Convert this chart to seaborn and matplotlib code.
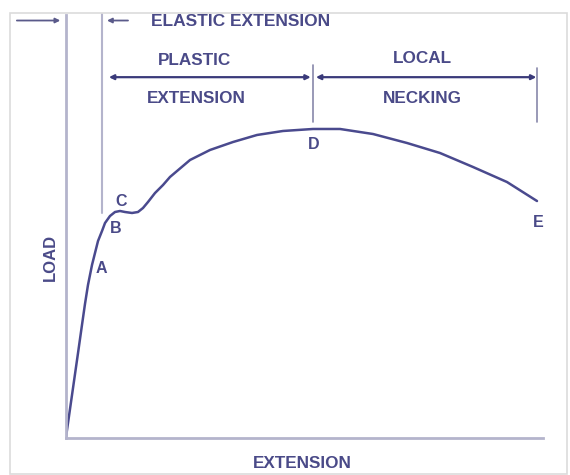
import numpy as np
import pandas as pd
import matplotlib.pyplot as plt
import seaborn as sns
from matplotlib.patches import Rectangle

# load-extension curve (extension %, load %)
extension = [0.0, 1.26, 2.52, 3.35, 3.98, 4.61, 5.45, 6.08, 6.71, 7.55, 8.18,
             9.22, 10.27, 11.32, 12.37, 13.84, 15.09, 16.14, 17.19, 18.66,
             20.34, 21.80, 26.00, 30.19, 35.01, 40.04, 45.49, 51.78, 57.44,
             64.36, 71.49, 78.41, 85.32, 92.45, 98.74]
load = [0.23, 10.09, 19.95, 26.53, 31.46, 35.92, 40.61, 43.43, 46.24, 48.59, 50.47,
        52.11, 53.05, 53.29, 53.05, 52.82, 53.05, 53.99, 55.40, 57.51,
        59.39, 61.27, 65.26, 67.61, 69.48, 71.13, 72.07, 72.54, 72.54,
        71.36, 69.25, 66.90, 63.62, 60.09, 55.63]

# point labels
point_names = ["A", "B", "C", "D", "E"]
point_x = [7.4, 10.4, 11.6, 52.0, 99.0]
point_y = [39.9, 49.1, 55.4, 68.8, 50.7]

# region boundaries (extension)
elastic_limit = 7.6
necking_start = 51.8
fracture = 98.7

df = pd.DataFrame({"extension": extension, "load": load})

sns.set_style("white")
plt.rcParams["font.family"] = ["Liberation Sans", "DejaVu Sans"]

txt = "#4a4a88"
curve = "#4a4a8e"
guide = "#b4b4cc"

fig = plt.figure(figsize=(5.7, 4.75), dpi=100)
ax = fig.add_axes([66 / 570, 37 / 475, 477 / 570, 426 / 475])

sns.lineplot(data=df, x="extension", y="load", ax=ax, color=curve, linewidth=1.8,
             sort=False, solid_joinstyle="round")

ax.set_xlim(0, 100)
ax.set_ylim(0, 100)
ax.set_xticks([])
ax.set_yticks([])
for s in ["top", "right"]:
    ax.spines[s].set_visible(False)
for s in ["left", "bottom"]:
    ax.spines[s].set_color(guide)
    ax.spines[s].set_linewidth(2)
ax.spines["left"].set_bounds(0, 99.3)

# vertical guide lines
ax.plot([elastic_limit, elastic_limit], [52.8, 99.5], color=guide, lw=1.5)
ax.plot([necking_start, necking_start], [74.2, 87.6], color="#8888aa", lw=1.2)
ax.plot([fracture, fracture], [74.2, 86.9], color="#8888aa", lw=1.2)

arrow = dict(arrowstyle="-|>", color="#5a5a8a", lw=1.3, mutation_scale=7,
             shrinkA=0, shrinkB=0)
ax.annotate("", xy=(-1.2, 98.0), xytext=(-10.3, 98.0), arrowprops=arrow,
            annotation_clip=False)
ax.annotate("", xy=(8.6, 98.0), xytext=(13.0, 98.0), arrowprops=arrow,
            annotation_clip=False)
dbl = dict(arrow, arrowstyle="<|-|>", color="#3a3a7a", lw=1.6)
ax.annotate("", xy=(9.0, 84.7), xytext=(51.3, 84.7), arrowprops=dbl)
ax.annotate("", xy=(52.4, 84.7), xytext=(98.6, 84.7), arrowprops=dbl)

bold = dict(color=txt, fontweight="bold", ha="center", va="center")
ax.text(36.7, 97.8, "ELASTIC EXTENSION", fontsize=12.5, clip_on=False, **bold)
ax.text(26.9, 88.7, "PLASTIC", fontsize=12.3, **bold)
ax.text(27.3, 79.8, "EXTENSION", fontsize=12.3, **bold)
ax.text(74.8, 89.0, "LOCAL", fontsize=12.3, **bold)
ax.text(74.8, 79.8, "NECKING", fontsize=12.3, **bold)

for n, px, py in zip(point_names, point_x, point_y):
    ax.text(px, py, n, fontsize=11.5, **bold)

ax.set_xlabel("EXTENSION", fontsize=12.3, fontweight="bold", color=txt)
ax.xaxis.set_label_coords(0.495, -0.042)
ax.set_ylabel("LOAD", fontsize=12, fontweight="bold", color=txt)
ax.yaxis.set_label_coords(-0.017, 0.425)

# faint screenshot border
fig.patches.append(Rectangle((10 / 570, 1 / 475), 557 / 570, 461 / 475,
                             transform=fig.transFigure, fill=False,
                             edgecolor="#dcdcdc", lw=1.2))

fig.savefig("out.png", dpi=100)
